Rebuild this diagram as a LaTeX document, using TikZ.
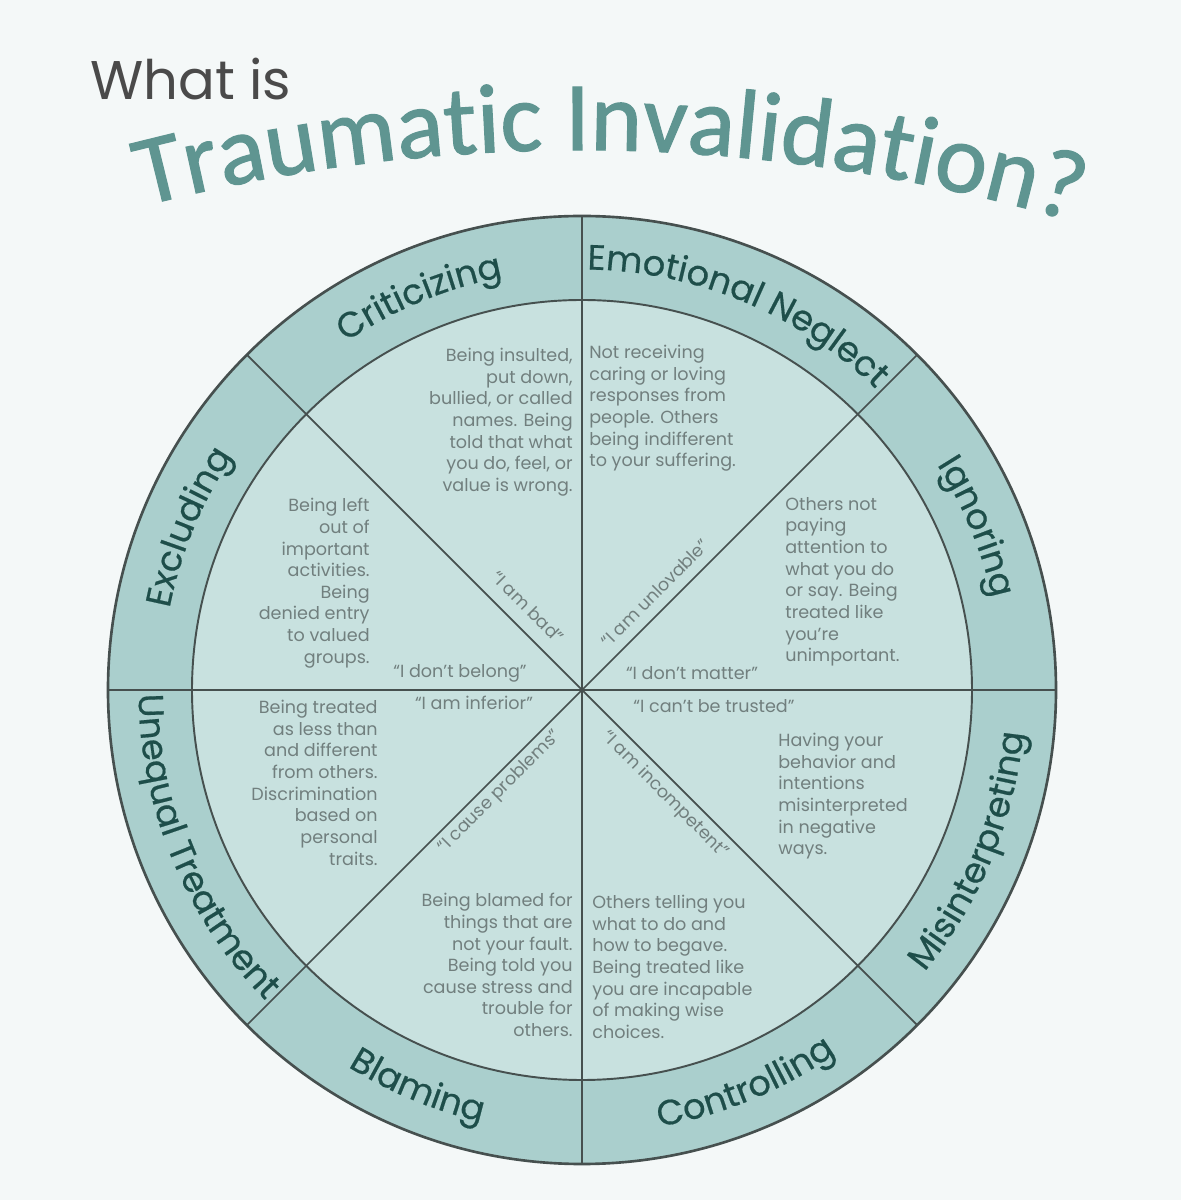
\documentclass[tikz,border=0pt]{standalone}
\usepackage{fontspec}
\setmainfont{Poppins}
\newfontfamily\titlefamily{Carlito}[FakeBold=1.2]
\newfontfamily\ringfamily{Poppins}[FakeBold=0.5]
\usetikzlibrary{decorations.text}
\definecolor{pagebg}{HTML}{F4F8F8}
\definecolor{ringfill}{HTML}{AACFCD}
\definecolor{corefill}{HTML}{C8E1DF}
\definecolor{edge}{HTML}{46504F}
\definecolor{titleteal}{HTML}{5F9591}
\definecolor{ringtext}{HTML}{1E4E4A}
\definecolor{bodygray}{HTML}{717F7E}
\definecolor{headgray}{HTML}{4A4A4A}

\newcommand{\descsize}{\fontsize{10}{12.3}\selectfont}
\newcommand{\ringsize}{\ringfamily\fontsize{20}{20}\selectfont}
\newcommand{\titlesize}{\titlefamily\fontsize{56}{56}\selectfont}

\begin{document}
\begin{tikzpicture}[
    desc/.style={font=\descsize, text=bodygray, inner sep=0pt, align=#1},
    belief/.style={font=\descsize, text=bodygray, inner sep=0pt},
    ringlabel/.style={decorate, decoration={text along path, text align=center,
        text color=ringtext, text={|\ringsize|#1}}},
  ]

  % Page
  \fill[pagebg] (-11.64,-10.2) rectangle (11.98,13.8);
  \useasboundingbox (-11.64,-10.2) rectangle (11.98,13.8);

  % =================== Heading ===================
  \node[font=\fontsize{31}{31}\selectfont, text=headgray, anchor=base west, inner sep=0pt]
    (whatis) at (-9.84,11.8) {What is};
  \path[shift={(-0.04,-23.8)}, decorate, decoration={text along path, text align=center,
      text color=titleteal, text={|\titlesize|Traumatic Invalidation?}}]
    (107:34.6) arc[start angle=107, end angle=71, radius=34.6];

  % =================== Wheel ===================
  \fill[ringfill] (0,0) circle (9.48);
  \fill[corefill] (0,0) circle (7.8);
  \foreach \a in {0,45,90,135}
    \draw[edge, line width=1pt] (\a:9.48) -- (\a+180:9.48);
  \draw[edge, line width=1.1pt] (0,0) circle (7.8);
  \draw[edge, line width=1.5pt] (0,0) circle (9.48);

  % Ring labels: upper half reads clockwise, lower half counter-clockwise
  \path[ringlabel=Criticizing] (139.5:8.41) arc[start angle=139.5, end angle=85.5, radius=8.41];
  \path[ringlabel=Emotional Neglect] (94.5:8.41) arc[start angle=94.5, end angle=40.5, radius=8.41];
  \path[ringlabel=Ignoring] (49.5:8.41) arc[start angle=49.5, end angle=-4.5, radius=8.41];
  \path[ringlabel=Excluding] (184.5:8.41) arc[start angle=184.5, end angle=130.5, radius=8.41];
  \path[ringlabel=Unequal Treatment] (175.5:8.87) arc[start angle=175.5, end angle=229.5, radius=8.87];
  \path[ringlabel=Blaming] (220.5:8.87) arc[start angle=220.5, end angle=274.5, radius=8.87];
  \path[ringlabel=Controlling] (265.5:8.87) arc[start angle=265.5, end angle=319.5, radius=8.87];
  \path[ringlabel=Misinterpreting] (310.5:8.87) arc[start angle=310.5, end angle=364.5, radius=8.87];

  % =================== Descriptions ===================
  \node[desc=right, anchor=north east] (critdesc) at (-0.18,6.84)
    {Being insulted,\\put down,\\bullied, or called\\names. Being\\told that what\\you do, feel, or\\value is wrong.};
  \node[desc=left, anchor=north west] (negldesc) at (0.14,6.9)
    {Not receiving\\caring or loving\\responses from\\people. Others\\being indifferent\\to your suffering.};
  \node[desc=left, anchor=north west] (ignodesc) at (4.06,3.86)
    {Others not\\paying\\attention to\\what you do\\or say. Being\\treated like\\you’re\\unimportant.};
  \node[desc=right, anchor=north east] (excldesc) at (-4.24,3.84)
    {Being left\\out of\\important\\activities.\\Being\\denied entry\\to valued\\groups.};
  \node[desc=right, anchor=north east] (uneqdesc) at (-4.08,-0.2)
    {Being treated\\as less than\\and different\\from others.\\Discrimination\\based on\\personal\\traits.};
  \node[desc=right, anchor=north east] (blamdesc) at (-0.18,-4.06)
    {Being blamed for\\things that are\\not your fault.\\Being told you\\cause stress and\\trouble for\\others.};
  \node[desc=left, anchor=north west] (ctrldesc) at (0.2,-4.1)
    {Others telling you\\what to do and\\how to begave.\\Being treated like\\you are incapable\\of making wise\\choices.};
  \node[desc=left, anchor=north west] (misidesc) at (3.92,-0.86)
    {Having your\\behavior and\\intentions\\misinterpreted\\in negative\\ways.};

  % =================== Beliefs ===================
  \node[belief] (belong) at (-2.44,0.34) {“I don’t belong”};
  \node[belief] (matter) at (2.2,0.34) {“I don’t matter”};
  \node[belief] (inferior) at (-2.16,-0.26) {“I am inferior”};
  \node[belief] (trusted) at (2.64,-0.32) {“I can’t be trusted”};
  \node[belief, rotate=-45] (bad) at (-1.08,1.66) {“I am bad”};
  \node[belief, rotate=45] (unlovable) at (1.46,1.94) {“I am unlovable”};
  \node[belief, rotate=45] (problems) at (-1.64,-2.04) {“I cause problems”};
  \node[belief, rotate=-45] (incompetent) at (1.66,-2.1) {“I am incompetent”};

\end{tikzpicture}
\end{document}
